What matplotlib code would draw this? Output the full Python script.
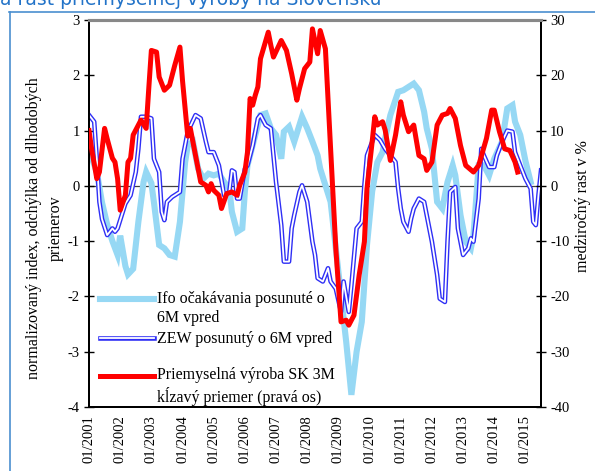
import numpy as np
import matplotlib
matplotlib.use("Agg")
import matplotlib.pyplot as plt
import matplotlib.patheffects as pe
from matplotlib.lines import Line2D
from matplotlib.legend_handler import HandlerLine2D

plt.rcParams["axes.unicode_minus"] = False

# mesiace od 01/2001
ifo_m = [0, 3, 5, 7, 9, 11, 12, 14, 15, 17, 19, 21, 22, 24, 25, 27, 29, 31, 33, 35,
         37, 38, 40, 42, 44, 46, 48, 50, 52, 54, 55, 57, 59, 60, 61, 64, 66, 68, 70, 72,
         74, 75, 77, 79, 82, 84, 86, 88, 89, 91, 93, 95, 97, 99, 101, 103, 105, 107, 109, 111,
         113, 114, 116, 119, 121, 125, 127, 129, 130, 132, 134, 136, 138, 140, 141, 143, 145, 147, 148, 150,
         152, 154, 156, 159, 161, 163, 164, 166, 168, 170]
ifo_v = [0.65, 0.25, -0.3, -0.7, -1.0, -1.25, -0.9, -1.45, -1.6, -1.5, -0.65, 0.07, 0.25, 0.05, -0.3, -1.07, -1.13, -1.25, -1.28, -0.65,
         0.43, 0.73, 0.8, 0.31, 0.13, 0.22, 0.19, 0.22, 0.07, -0.05, -0.47, -0.83, -0.77, -0.1, 0.37, 0.92, 1.28, 1.31, 1.04, 0.92,
         0.49, 0.98, 1.07, 0.8, 1.25, 1.04, 0.8, 0.55, 0.31, 0.01, -0.29, -1.13, -1.98, -2.82, -3.78, -3.0, -2.46, -1.07, -0.1, 0.43,
         0.61, 0.86, 1.28, 1.7, 1.73, 1.85, 1.73, 1.34, 1.04, 0.67, -0.29, -0.41, 0.07, 0.37, 0.19, -0.53, -1.01, -1.13, -0.89, 0.37,
         0.37, 0.19, 0.49, 0.8, 1.4, 1.46, 1.16, 0.92, 0.45, 0.07]

zew_m = [0, 2, 3, 4, 5, 7, 9, 10, 11, 13, 14, 16, 18, 19, 20, 22, 24, 25, 27, 28,
         29, 30, 32, 35, 36, 38, 41, 43, 45, 46, 48, 50, 52, 54, 55, 56, 57, 58, 60, 61,
         63, 65, 66, 68, 70, 71, 72, 74, 75, 77, 78, 79, 81, 82, 84, 86, 87, 88, 90, 92,
         93, 95, 97, 98, 100, 101, 103, 105, 106, 107, 110, 112, 114, 116, 118, 119, 120, 121, 123, 124,
         125, 127, 129, 130, 132, 134, 135, 137, 138, 139, 141, 142, 144, 146, 147, 148, 150, 151, 152, 154,
         156, 157, 159, 161, 163, 164, 166, 168, 170, 171, 172, 173, 174]
zew_v = [1.28, 1.16, 0.49, -0.29, -0.6, -0.89, -0.77, -0.83, -0.77, -0.47, -0.32, -0.17, 0.25, 0.67, 1.25, 1.25, 1.22, 0.49, 0.25, -0.47,
         -0.62, -0.29, -0.2, -0.11, 0.49, 0.98, 1.28, 1.22, 0.8, 0.61, 0.61, 0.37, -0.17, -0.11, 0.28, 0.25, -0.23, -0.23, 0.31, 0.37,
         0.73, 1.22, 1.28, 1.1, 1.04, 0.55, 0.07, -0.71, -1.37, -1.37, -0.77, -0.53, -0.11, 0.01, -0.29, -1.01, -1.25, -1.67, -1.73, -1.49,
         -1.73, -1.86, -2.28, -1.73, -2.28, -1.8, -0.77, -0.65, 0.01, 0.55, 0.92, 0.83, 0.67, 0.55, 0.43, -0.05, -0.41, -0.65, -0.83, -0.59,
         -0.41, -0.23, -0.29, -0.53, -1.01, -1.61, -2.04, -2.1, -1.01, -0.11, -0.02, -0.77, -1.25, -1.13, -0.95, -1.01, -0.23, 0.67, 0.55, 0.34,
         0.34, 0.55, 0.8, 1.0, 0.98, 0.61, 0.37, 0.13, -0.05, -0.65, -0.71, -0.17, 0.28]

vyr_m = [0, 1, 3, 4, 6, 7, 9, 10, 11, 12, 14, 15, 16, 17, 19, 20, 22, 23, 24, 26,
         27, 29, 31, 33, 35, 36, 37, 38, 39, 41, 43, 45, 46, 47, 48, 50, 51, 53, 55, 57,
         58, 60, 61, 62, 63, 64, 65, 66, 69, 70, 71, 74, 76, 78, 80, 81, 83, 85, 86, 88,
         89, 91, 93, 95, 97, 99, 100, 102, 104, 106, 107, 109, 110, 111, 113, 114, 116, 118, 120, 121,
         123, 125, 127, 129, 130, 132, 134, 136, 138, 139, 141, 143, 145, 148, 150, 153, 155, 156, 158, 160,
         162, 164, 165]
vyr_v = [10, 6.7, 1.3, 2.5, 10.4, 8.5, 5, 4.3, 1.3, -4.4, -1.7, 4.3, 5, 9.2, 11, 11.9, 10.4, 17.6, 24.5, 24.2,
         19.7, 17.3, 18.2, 21.8, 25.1, 19, 14, 9, 10.4, 5.5, 0.7, 0.1, -1.1, 0.4, -0.8, -1.7, -4.1, -1.4, -1.1, -1.7,
         0.1, 2.5, 6.1, 15.8, 14.6, 16.4, 17.9, 23, 27.8, 25.4, 23.3, 26.3, 24.5, 20.3, 15.5, 17.6, 21.2, 22.4, 28.4, 23.9,
         28.1, 24.8, 6.7, -11.3, -24.6, -24.3, -25.2, -23.4, -16.1, -10.1, -0.5, 8, 12.5, 11, 11.6, 10.1, 4.6, 9.2, 15.2, 12.8,
         9.8, 11, 5.5, 4.9, 2.8, 4.3, 11, 12.8, 13.1, 14, 12.2, 7.3, 3.7, 2.5, 3.7, 8.6, 13.7, 13.7, 9.8, 6.7,
         6.4, 4.3, 2.5]

tick_m = list(range(0, 169, 12))
tick_lab = ["01/%d" % r for r in range(2001, 2016)]

SERIF = "Liberation Serif"


class FirstLineHandler(HandlerLine2D):
    """legend handle posunutý k prvému riadku viacriadkového popisu"""
    def __init__(self, dy=0.0, **kw):
        super().__init__(**kw)
        self.dy = dy

    def create_artists(self, legend, orig_handle, xdescent, ydescent, width, height,
                       fontsize, trans):
        arts = super().create_artists(legend, orig_handle, xdescent, ydescent, width,
                                      height, fontsize, trans)
        for a in arts:
            a.set_ydata(np.asarray(a.get_ydata(), dtype=float) + self.dy)
        return arts


def main():
    fig = plt.figure(figsize=(5.95, 4.71), dpi=100)
    ax = fig.add_axes([0.1496, 0.1359, 0.7597, 0.8216])
    ax2 = ax.twinx()

    l_ifo, = ax.plot(ifo_m, ifo_v, color="#96d8f4", lw=4.4, solid_joinstyle="miter",
                     label="Ifo očakávania posunuté o\n6M vpred", zorder=2)
    l_zew, = ax.plot(zew_m, zew_v, color="white", lw=1.3, zorder=3,
                     path_effects=[pe.Stroke(linewidth=3.3, foreground="#2f2ff5"), pe.Normal()],
                     label="ZEW posunutý o 6M vpred")
    l_vyr, = ax2.plot(vyr_m, vyr_v, color="#ff0000", lw=3.6, zorder=4,
                      label="Priemyselná výroba SK 3M\nkĺzavý priemer (pravá os)")
    ax.axhline(0, color="#404040", lw=0.9, zorder=1)

    ax.set_xlim(0, 174)
    ax.set_ylim(-4, 3)
    ax2.set_ylim(-40, 30)
    ax.set_yticks(range(-4, 4))
    ax2.set_yticks(range(-40, 31, 10))
    ax.set_xticks(tick_m)
    ax.set_xticklabels(tick_lab, rotation=90, fontfamily=SERIF, fontsize=10.5)
    ax.tick_params(axis="x", length=0, pad=6)
    ax.tick_params(axis="y", direction="inout", length=7, width=1, labelsize=10.5, pad=3)
    ax2.tick_params(axis="y", direction="inout", length=7, width=1, labelsize=10.5, pad=3)
    for lab in ax.get_yticklabels() + ax2.get_yticklabels():
        lab.set_fontfamily(SERIF)

    for a in (ax, ax2):
        for s in ("left", "right", "bottom"):
            a.spines[s].set_color("black")
            a.spines[s].set_linewidth(1.4)
        a.spines["top"].set_color("#888888")
        a.spines["top"].set_linewidth(2.2)

    fig.text(0.075, 0.516, "normalizovaný index, odchýlka od dlhodobých\npriemerov",
             rotation=90, ha="center", va="center", multialignment="center",
             fontfamily=SERIF, fontsize=11.5, linespacing=1.45)
    fig.text(0.98, 0.563, "medziročný rast v %", rotation=90, ha="center", va="center",
             fontfamily=SERIF, fontsize=11.5)

    leg_prop = {"family": SERIF, "size": 11.5}
    two_line = FirstLineHandler(dy=7.5)
    leg1 = ax2.legend(handles=[l_ifo, l_zew], loc="upper left",
                      bbox_to_anchor=(0.013, 1 - 286 / 387 + 20 / 387), frameon=False,
                      borderpad=0.0, borderaxespad=0.3, handlelength=3.4, handletextpad=0.2,
                      labelspacing=0.3, prop=leg_prop, handler_map={l_ifo: two_line})
    for t in leg1.get_texts():
        t.set_linespacing(1.3)
    leg2 = ax2.legend(handles=[l_vyr], loc="lower left",
                      bbox_to_anchor=(0.013, -0.01), frameon=False,
                      borderpad=0.0, borderaxespad=0.3, handlelength=3.4, handletextpad=0.2,
                      prop=leg_prop, handler_map={l_vyr: two_line})
    for t in leg2.get_texts():
        t.set_linespacing(1.3)
    ax2.add_artist(leg1)
    leg1.set_zorder(10)
    leg2.set_zorder(10)

    # nadpis (orezaný) a rámček
    fig.text(0.0, 1 - 5 / 471, "a rast priemyselnej výroby na Slovensku",
             color="#2273c8", fontsize=13.5, fontfamily="DejaVu Sans", va="baseline")
    fig.add_artist(Line2D([9 / 595, 1], [1 - 11.5 / 471] * 2, color="#4a8fd0", lw=1.2))
    fig.add_artist(Line2D([9.5 / 595] * 2, [0, 1 - 11.5 / 471], color="#4a8fd0", lw=1.2))

    fig.savefig("out.png", dpi=100)
    plt.close(fig)


if __name__ == "__main__":
    main()
